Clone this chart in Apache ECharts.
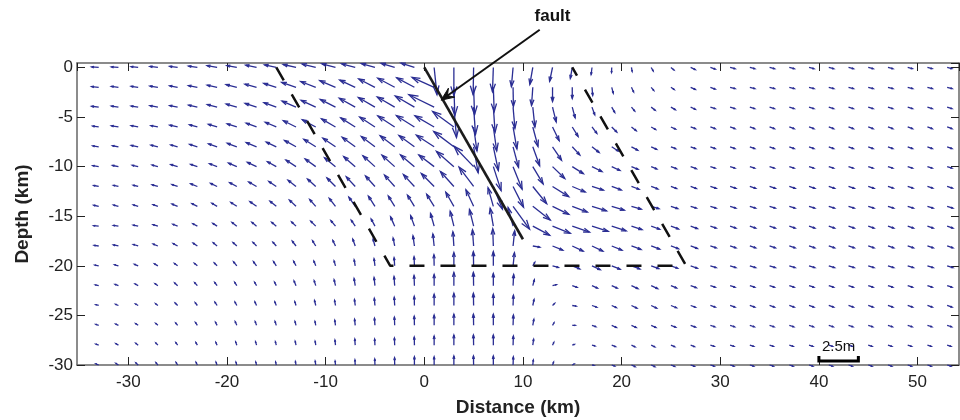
<!DOCTYPE html>
<html>
<head>
<meta charset="utf-8">
<script src="https://cdn.jsdelivr.net/npm/echarts@6/dist/echarts.min.js"></script>
<style>
  html, body { margin: 0; padding: 0; background: #fff; }
  #main { width: 960px; height: 420px; }
</style>
</head>
<body>
<div id="main"></div>
<script>
// grid of arrow tails (km)
var xs = [-33,-31,-29,-27,-25,-23,-21,-19,-17,-15,-13,-11,-9,-7,-5,-3,-1,1,3,5,7,9,11,13,15,17,19,21,23,25,27,29,31,33,35,37,39,41,43,45,47,49,51,53];
var ys = [0,-2,-4,-6,-8,-10,-12,-14,-16,-18,-20,-22,-24,-26,-28,-30];

// displacement magnitude (m), one row per depth
var magRows = [
  [.45,.45,.45,.51,.51,.57,.64,.64,.70,.76,.83,.89,.89,.89,.89,.89,.89,1.72,1.78,1.72,1.53,1.21,1.08,.89,.70,.45,.32,.25,.25,.25,.32,.32,.32,.32,.32,.32,.32,.32,.32,.32,.32,.30,.30,.30],
  [.45,.45,.45,.51,.51,.57,.64,.70,.76,.83,.96,1.02,1.08,1.08,1.15,1.21,1.27,1.53,1.78,1.72,1.53,1.21,1.15,.89,.70,.51,.38,.32,.25,.25,.32,.32,.32,.32,.32,.32,.32,.32,.32,.32,.32,.32,.32,.32],
  [.45,.45,.45,.51,.51,.57,.64,.70,.76,.83,.96,1.02,1.08,1.15,1.21,1.27,1.40,1.78,1.91,1.72,1.59,1.34,1.27,.96,.70,.51,.38,.32,.32,.32,.32,.32,.32,.32,.32,.32,.32,.32,.32,.32,.32,.32,.32,.32],
  [.38,.45,.45,.45,.51,.51,.57,.64,.70,.76,.89,.96,1.02,1.08,1.15,1.27,1.34,1.40,1.66,1.53,1.53,1.40,1.27,.96,.70,.51,.45,.38,.32,.32,.32,.32,.32,.32,.32,.32,.32,.32,.32,.32,.32,.32,.32,.32],
  [.38,.38,.45,.45,.45,.51,.57,.64,.70,.70,.83,.89,.96,1.02,1.08,1.15,1.21,1.34,1.59,1.66,1.53,1.34,1.27,1.02,.70,.57,.51,.45,.38,.32,.32,.32,.32,.32,.32,.32,.32,.32,.32,.32,.32,.32,.32,.32],
  [.38,.38,.38,.38,.45,.45,.51,.57,.64,.64,.76,.83,.89,.96,1.02,1.08,1.15,1.21,1.46,1.78,1.59,1.53,1.27,1.08,.83,.70,.57,.45,.38,.38,.38,.32,.32,.32,.32,.32,.32,.32,.32,.32,.32,.32,.32,.32],
  [.32,.32,.32,.38,.38,.45,.45,.51,.57,.57,.64,.70,.76,.83,.89,.96,1.02,1.15,1.27,1.53,1.53,1.46,1.40,1.21,.89,.76,.64,.51,.45,.38,.38,.38,.38,.38,.38,.38,.38,.38,.38,.38,.35,.35,.35,.35],
  [.32,.32,.32,.32,.38,.38,.38,.45,.51,.51,.57,.57,.64,.70,.76,.76,.83,.89,1.02,1.15,1.21,1.78,1.40,1.15,1.02,.96,.83,.64,.51,.45,.38,.38,.38,.38,.38,.38,.38,.38,.38,.38,.38,.38,.38,.38],
  [.32,.32,.32,.32,.32,.32,.32,.38,.38,.38,.38,.45,.45,.45,.51,.64,.70,.83,.96,1.08,1.15,1.21,1.21,1.21,1.15,1.08,.96,.70,.57,.51,.45,.38,.38,.38,.38,.38,.38,.38,.38,.38,.38,.38,.38,.38],
  [.29,.32,.32,.32,.32,.32,.32,.32,.32,.32,.38,.38,.38,.45,.45,.51,.64,.76,.89,1.02,1.08,.96,.45,.70,.76,.76,.70,.64,.57,.51,.45,.38,.38,.38,.38,.38,.38,.38,.38,.38,.38,.38,.38,.38],
  [.25,.25,.25,.25,.25,.25,.25,.32,.32,.32,.32,.32,.32,.38,.45,.51,.57,.70,.83,.89,.89,.83,.25,.38,.51,.57,.57,.57,.51,.45,.45,.38,.38,.38,.38,.38,.38,.38,.38,.38,.38,.38,.38,.38],
  [.22,.22,.22,.22,.25,.25,.25,.25,.25,.25,.32,.32,.38,.45,.51,.57,.64,.70,.83,.83,.76,.70,.38,.25,.32,.38,.38,.45,.45,.38,.38,.32,.32,.32,.32,.32,.32,.32,.32,.32,.32,.32,.32,.32],
  [.19,.19,.19,.19,.22,.22,.25,.25,.25,.25,.25,.32,.32,.38,.45,.51,.57,.70,.76,.76,.70,.64,.38,.19,.25,.32,.32,.38,.38,.38,.32,.32,.32,.32,.32,.32,.32,.32,.32,.32,.32,.32,.32,.32],
  [.19,.19,.19,.19,.19,.22,.22,.25,.25,.25,.25,.25,.32,.38,.45,.51,.57,.64,.70,.70,.70,.64,.38,.19,.19,.25,.32,.32,.32,.32,.32,.29,.29,.29,.29,.29,.29,.29,.29,.29,.29,.29,.29,.29],
  [.19,.19,.19,.19,.19,.19,.19,.22,.22,.22,.25,.25,.32,.38,.38,.45,.51,.57,.64,.64,.64,.57,.38,.19,.13,.19,.25,.25,.25,.25,.25,.25,.25,.25,.25,.25,.25,.25,.25,.25,.25,.25,.25,.25],
  [.19,.19,.19,.19,.19,.19,.19,.19,.19,.19,.22,.25,.25,.32,.38,.45,.51,.51,.57,.57,.57,.51,.32,.19,.13,.13,.19,.25,.25,.25,.25,.25,.25,.25,.25,.25,.25,.25,.25,.25,.25,.25,.25,.25]
];

// displacement direction (degrees, 0 = right, 90 = up)
var dirRows = [
  [175,175,174,173,172,171,170,169,168,168,167,166,165,165,164,163,162,-84,-90,-91,-92,-95,-100,-102,-100,-97,-92,-80,-60,-40,-25,-18,-14,-14,-14,-14,-14,-14,-14,-14,-14,-14,-14,-14],
  [174,173,172,171,170,169,168,166,165,163,161,159,157,155,153,152,152,156,-88,-88,-88,-89,-94,-90,-90,-85,-75,-65,-50,-35,-25,-20,-15,-15,-15,-15,-15,-15,-15,-15,-15,-15,-15,-15],
  [173,172,171,170,169,167,165,164,162,160,157,155,153,151,150,150,150,154,-85,-86,-86,-85,-84,-76,-75,-70,-60,-50,-38,-30,-25,-18,-18,-18,-18,-18,-18,-18,-18,-18,-18,-18,-18,-18],
  [172,171,170,169,167,165,163,162,160,157,154,152,150,148,147,147,148,150,144,-82,-82,-80,-75,-64,-58,-53,-45,-38,-30,-25,-20,-20,-20,-20,-20,-20,-20,-20,-20,-20,-20,-20,-20,-20],
  [171,170,168,167,165,163,161,160,158,155,151,148,146,144,143,143,144,147,143,-80,-78,-75,-70,-56,-47,-38,-33,-28,-25,-22,-20,-20,-20,-20,-20,-20,-20,-20,-20,-20,-20,-20,-20,-20],
  [170,169,167,165,163,161,159,157,155,151,147,144,141,139,138,138,140,143,139,134,-72,-68,-59,-44,-32,-26,-25,-22,-22,-20,-20,-18,-18,-18,-18,-18,-18,-18,-18,-18,-18,-18,-18,-18],
  [169,168,166,164,161,158,155,152,150,146,142,138,135,133,132,132,133,135,132,127,-68,-63,-51,-32,-23,-18,-20,-20,-20,-20,-20,-18,-18,-18,-18,-18,-18,-18,-18,-18,-18,-18,-18,-18],
  [168,166,164,161,158,154,150,147,145,141,137,132,128,125,123,122,122,122,120,115,106,-54,-38,-26,-21,-17,-17,-16,-17,-18,-18,-18,-18,-18,-18,-18,-18,-18,-18,-18,-18,-18,-18,-18],
  [175,172,168,163,158,152,147,143,141,140,137,135,130,124,118,114,110,106,104,104,100,105,-28,-22,-19,-18,-18,-18,-20,-20,-20,-18,-18,-18,-18,-18,-18,-18,-18,-18,-18,-18,-18,-18],
  [172,168,163,158,152,146,140,138,135,132,128,122,116,110,105,101,98,96,94,94,92,84,-10,-22,-25,-25,-22,-20,-20,-20,-20,-18,-18,-18,-18,-18,-18,-18,-18,-18,-18,-18,-18,-18],
  [170,165,158,150,143,140,135,130,127,123,118,112,106,100,97,94,92,91,90,91,90,84,60,-15,-22,-25,-22,-20,-20,-20,-20,-18,-18,-18,-18,-18,-18,-18,-18,-18,-18,-18,-18,-18],
  [168,160,152,145,138,132,127,123,120,117,113,108,103,99,96,94,92,90,90,91,90,87,75,15,-20,-25,-25,-25,-25,-22,-20,-18,-18,-18,-18,-18,-18,-18,-18,-18,-18,-18,-18,-18],
  [165,158,150,142,135,128,123,118,115,112,108,104,100,97,95,93,91,90,90,91,90,88,78,45,-10,-20,-25,-25,-25,-22,-20,-18,-18,-18,-18,-18,-18,-18,-18,-18,-18,-18,-18,-18],
  [162,155,146,138,130,124,118,114,110,108,105,101,98,96,94,92,91,90,90,91,90,88,80,60,0,-20,-25,-25,-25,-22,-20,-18,-18,-18,-18,-18,-18,-18,-18,-18,-18,-18,-18,-18],
  [160,150,142,133,126,120,115,110,107,105,102,99,96,94,93,92,91,90,90,91,90,88,82,65,20,-15,-20,-25,-25,-22,-20,-18,-18,-18,-18,-18,-18,-18,-18,-18,-18,-18,-18,-18],
  [158,148,138,130,122,116,111,107,105,103,100,98,95,93,92,91,90,90,90,91,90,88,84,70,30,-10,-20,-25,-25,-22,-20,-18,-18,-18,-18,-18,-18,-18,-18,-18,-18,-18,-18,-18]
];

// fault trace and the dashed block outline (km)
var faultLine = [[0, 0], [10, -17.32]];
var blockOutline = [[-15, 0], [-3.45, -20], [26.55, -20], [15, 0]];

// scale bar: 2.5 m drawn as 4 km of distance
var scaleMetres = 2.5;
var scaleKm = 4;
var scaleBarAt = [40, -29.6];
var kmPerMetre = scaleKm / scaleMetres;

var arrowColor = '#2a2d93';
var font = 'Liberation Sans, Arial, Helvetica, sans-serif';

var quiverData = [];
for (var r = 0; r < ys.length; r++) {
  for (var c = 0; c < xs.length; c++) {
    var m = magRows[r][c], a = dirRows[r][c] * Math.PI / 180;
    quiverData.push([xs[c], ys[r], m * Math.cos(a), m * Math.sin(a)]);
  }
}

function renderArrow(params, api) {
  var x = api.value(0), y = api.value(1), u = api.value(2), v = api.value(3);
  var p0 = api.coord([x, y]);
  var p1 = api.coord([x + u * kmPerMetre, y + v * kmPerMetre]);
  var dx = p1[0] - p0[0], dy = p1[1] - p0[1];
  var al = 0.33, be = 0.33;
  var h1 = [p1[0] - al * (dx + be * dy), p1[1] - al * (dy - be * dx)];
  var h2 = [p1[0] - al * (dx - be * dy), p1[1] - al * (dy + be * dx)];
  return {
    type: 'group',
    children: [
      { type: 'line', shape: { x1: p0[0], y1: p0[1], x2: p1[0], y2: p1[1] },
        style: { stroke: arrowColor, lineWidth: 1.3 } },
      { type: 'polyline', shape: { points: [h1, p1, h2] },
        style: { stroke: arrowColor, fill: null, lineWidth: 1.3 } }
    ]
  };
}

function renderScaleBar(params, api) {
  var p0 = api.coord([api.value(0), api.value(1)]);
  var p1 = api.coord([api.value(0) + scaleMetres * kmPerMetre, api.value(1)]);
  return {
    type: 'group',
    children: [
      { type: 'polyline',
        shape: { points: [[p0[0], p0[1] - 5], [p0[0], p0[1]], [p1[0], p1[1]], [p1[0], p1[1] - 5]] },
        style: { stroke: '#000', fill: null, lineWidth: 3 } },
      { type: 'text',
        style: { text: scaleMetres + 'm', x: (p0[0] + p1[0]) / 2, y: p0[1] - 7,
                 align: 'center', verticalAlign: 'bottom', fill: '#111',
                 font: '15px ' + font } }
    ]
  };
}

var chart = echarts.init(document.getElementById('main'), null, { renderer: 'canvas' });

var boxLine = { lineStyle: { color: '#666', width: 1.5 }, onZero: false };
var boxTick = { inside: true, length: 8, lineStyle: { color: '#222', width: 1 } };

var option = {
  backgroundColor: '#fff',
  animation: false,
  grid: { left: 77, right: 1, top: 63, bottom: 55, containLabel: false, outerBoundsMode: 'none' },
  xAxis: [
    {
      type: 'value', min: -35.2, max: 54.2, splitNumber: 9, minInterval: 10, maxInterval: 10,
      position: 'bottom', axisLine: boxLine, axisTick: boxTick, splitLine: { show: false },
      axisLabel: { showMinLabel: false, showMaxLabel: false, fontSize: 17, color: '#222',
                   margin: 9, fontFamily: font },
      name: 'Distance (km)', nameLocation: 'middle', nameGap: 33,
      nameTextStyle: { fontSize: 19, fontWeight: 'bold', color: '#222', fontFamily: font }
    },
    {
      type: 'value', min: -35.2, max: 54.2, splitNumber: 9, minInterval: 10, maxInterval: 10,
      position: 'top', axisLine: boxLine, axisTick: boxTick, splitLine: { show: false },
      axisLabel: { show: false }
    }
  ],
  yAxis: [
    {
      type: 'value', min: -30, max: 0.45, splitNumber: 6, minInterval: 5, maxInterval: 5,
      position: 'left', axisLine: boxLine, axisTick: boxTick, splitLine: { show: false },
      axisLabel: { showMaxLabel: false, fontSize: 17, color: '#222', margin: 4, fontFamily: font },
      name: 'Depth (km)', nameLocation: 'middle', nameRotate: 90, nameGap: 45,
      nameTextStyle: { fontSize: 19, fontWeight: 'bold', color: '#222', fontFamily: font }
    },
    {
      type: 'value', min: -30, max: 0.45, splitNumber: 6, minInterval: 5, maxInterval: 5,
      position: 'right', axisLine: boxLine, axisTick: boxTick, splitLine: { show: false },
      axisLabel: { show: false }
    }
  ],
  series: [
    {
      name: 'displacement', type: 'custom', renderItem: renderArrow,
      data: quiverData, clip: false, z: 2, silent: true
    },
    {
      name: 'fault', type: 'line', data: faultLine, symbol: 'none', z: 4, silent: true,
      lineStyle: { color: '#1c1c1c', width: 2.6 }
    },
    {
      name: 'block', type: 'line', data: blockOutline, symbol: 'none', z: 4, silent: true,
      lineStyle: { color: '#111', width: 2.5, type: [15, 16] }
    },
    {
      name: 'scale', type: 'custom', renderItem: renderScaleBar,
      data: [scaleBarAt], clip: false, z: 5, silent: true
    }
  ]
};

chart.setOption(option);

// "fault" annotation arrow, placed in data space
var labelAt = chart.convertToPixel({ gridIndex: 0 }, [13.0, 5.2]);
var tailAt = chart.convertToPixel({ gridIndex: 0 }, [11.7, 3.8]);
var tipAt = chart.convertToPixel({ gridIndex: 0 }, [1.7, -3.3]);
var ang = Math.atan2(tipAt[1] - tailAt[1], tipAt[0] - tailAt[0]);
var hl = 13, hw = 5.5;
function rot(px, py) {
  return [tipAt[0] + px * Math.cos(ang) - py * Math.sin(ang),
          tipAt[1] + px * Math.sin(ang) + py * Math.cos(ang)];
}
chart.setOption({
  graphic: [
    { type: 'line', z: 10,
      shape: { x1: tailAt[0], y1: tailAt[1], x2: rot(-6, 0)[0], y2: rot(-6, 0)[1] },
      style: { stroke: '#111', lineWidth: 2 } },
    { type: 'polygon', z: 10,
      shape: { points: [rot(0, 0), rot(-hl, -hw), rot(-hl * 0.6, 0), rot(-hl, hw)] },
      style: { fill: '#111', stroke: '#111', lineWidth: 1 } },
    { type: 'text', z: 10, x: labelAt[0], y: labelAt[1],
      style: { text: 'fault', align: 'center', verticalAlign: 'middle', fill: '#111',
               font: 'bold 17px ' + font } }
  ]
});
</script>
</body>
</html>
